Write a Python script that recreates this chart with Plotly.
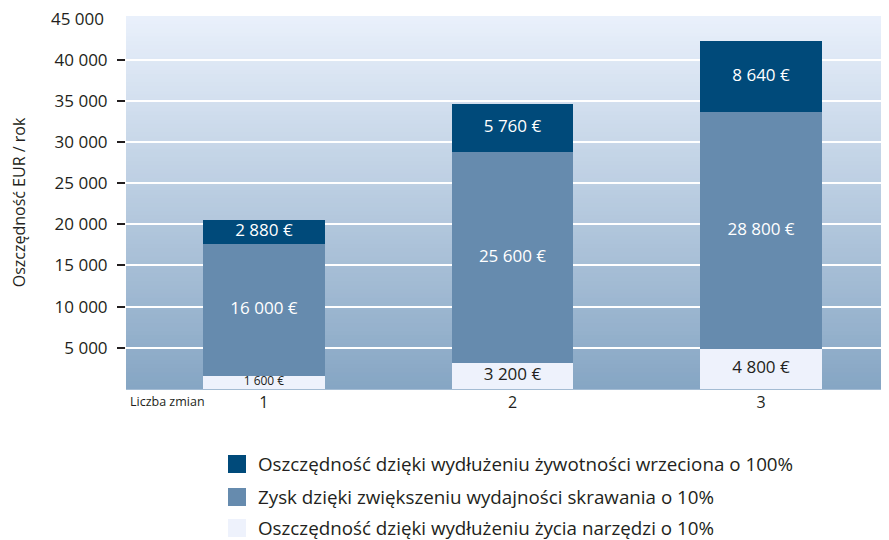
import numpy as np
import plotly.graph_objects as go

categories = [1, 2, 3]
tool_life = [1600, 3200, 4800]          # Oszczędność dzięki wydłużeniu życia narzędzi o 10%
cutting_gain = [16000, 25600, 28800]    # Zysk dzięki zwiększeniu wydajności skrawania o 10%
spindle_life = [2880, 5760, 8640]       # Oszczędność dzięki wydłużeniu żywotności wrzeciona o 100%

series_names = [
    "Oszczędność dzięki wydłużeniu życia narzędzi o 10%",
    "Zysk dzięki zwiększeniu wydajności skrawania o 10%",
    "Oszczędność dzięki wydłużeniu żywotności wrzeciona o 100%",
]
y_tick_vals = [5000, 10000, 15000, 20000, 25000, 30000, 35000, 40000]
y_tick_text = ["5 000", "10 000", "15 000", "20 000", "25 000", "30 000", "35 000", "40 000"]
y_top_label = "45 000"

FONT = "Open Sans"
DARK_TXT = "#231f20"
colors = ["#eef2fc", "#668bae", "#004a7a"]
text_colors = [DARK_TXT, "white", "white"]
text_sizes = [[12, 17, 17], [17, 17, 17], [17, 17, 17]]


def fmt(v):
    return f"{v:,}".replace(",", " ") + " €"


fig = go.Figure()
series = [tool_life, cutting_gain, spindle_life]
base = np.zeros(len(categories))
for i, vals in enumerate(series):
    fig.add_trace(go.Bar(
        x=categories, y=vals, base=base.tolist(), name=series_names[i],
        marker=dict(color=colors[i], line=dict(width=0)),
        width=0.49, showlegend=False, hoverinfo="skip",
    ))
    mids = base + np.array(vals) / 2
    fig.add_trace(go.Scatter(
        x=categories, y=mids.tolist(), mode="text",
        text=[fmt(v) for v in vals],
        textfont=dict(family=FONT, color=text_colors[i], size=text_sizes[i]),
        showlegend=False, hoverinfo="skip", cliponaxis=False,
    ))
    base = base + np.array(vals)

# The page body has an 8px default margin, so the figure is laid out 8px smaller
OFF = 8
W, H = 889 - OFF, 540 - OFF
plot_left = 126 - OFF
plot_top = 16 - OFF
plot_bottom = 389 - OFF
ph = plot_bottom - plot_top
pw = W - plot_left


def py(ypx):  # ypx in window pixels
    return (plot_bottom - (ypx - OFF)) / ph


def px(xpx):  # xpx in window pixels
    return ((xpx - OFF) - plot_left) / pw


# background gradient
shapes = []
n = 90
top = np.array([234, 241, 252])
bot = np.array([134, 166, 196])
for k in range(n):
    t = (k + 0.5) / n
    c = top + (bot - top) * t
    shapes.append(dict(
        type="rect", xref="paper", yref="paper", layer="below",
        x0=0, x1=1, y0=1 - (k + 1) / n - 0.002, y1=1 - k / n,
        fillcolor=f"rgb({int(c[0])},{int(c[1])},{int(c[2])})", line=dict(width=0),
    ))

annotations = [
    dict(text=y_top_label, xref="paper", yref="y", x=0, y=45000, xanchor="right", yanchor="middle",
         xshift=-20, showarrow=False, font=dict(size=17, color=DARK_TXT, family=FONT)),
    dict(text="Liczba zmian", xref="paper", yref="paper", x=0, y=py(401), xanchor="left",
         yanchor="middle", xshift=2, showarrow=False, font=dict(size=12.5, color=DARK_TXT, family=FONT)),
]

# manual legend (top series first)
leg_rows = [464, 497, 528]
for row, idx in zip(leg_rows, [2, 1, 0]):
    shapes.append(dict(
        type="rect", xref="paper", yref="paper", layer="above",
        x0=px(228), x1=px(246), y0=py(row + 9), y1=py(row - 9),
        fillcolor=colors[idx], line=dict(width=0),
    ))
    annotations.append(dict(
        text=series_names[idx], xref="paper", yref="paper", x=px(256), y=py(row),
        xanchor="left", yanchor="middle", showarrow=False,
        font=dict(size=18.8, color=DARK_TXT, family=FONT),
    ))

fig.update_layout(
    width=W, height=H,
    margin=dict(l=plot_left, r=0, t=plot_top, b=H - plot_bottom),
    paper_bgcolor="white", plot_bgcolor="rgba(0,0,0,0)",
    barmode="overlay", bargap=0, showlegend=False,
    font=dict(family=FONT, color=DARK_TXT),
    shapes=shapes,
    annotations=annotations,
    xaxis=dict(range=[0.445, 3.515], tickvals=categories, ticktext=[str(c) for c in categories],
               showgrid=False, zeroline=False, showline=False, ticks="", automargin=False,
               ticklabelstandoff=2,
               tickfont=dict(size=16, color=DARK_TXT), fixedrange=True),
    yaxis=dict(range=[0, 45300], tickvals=y_tick_vals, ticktext=y_tick_text, automargin=False,
               showgrid=True, gridcolor="white", gridwidth=2, zeroline=False, showline=False,
               ticks="outside", ticklen=8, tickwidth=2, tickcolor=DARK_TXT,
               tickfont=dict(size=17, color=DARK_TXT), ticklabelstandoff=6,
               title=dict(text="Oszczędność EUR / rok", font=dict(size=16, color=DARK_TXT), standoff=24),
               fixedrange=True),
)

fig.write_html("out.html")
